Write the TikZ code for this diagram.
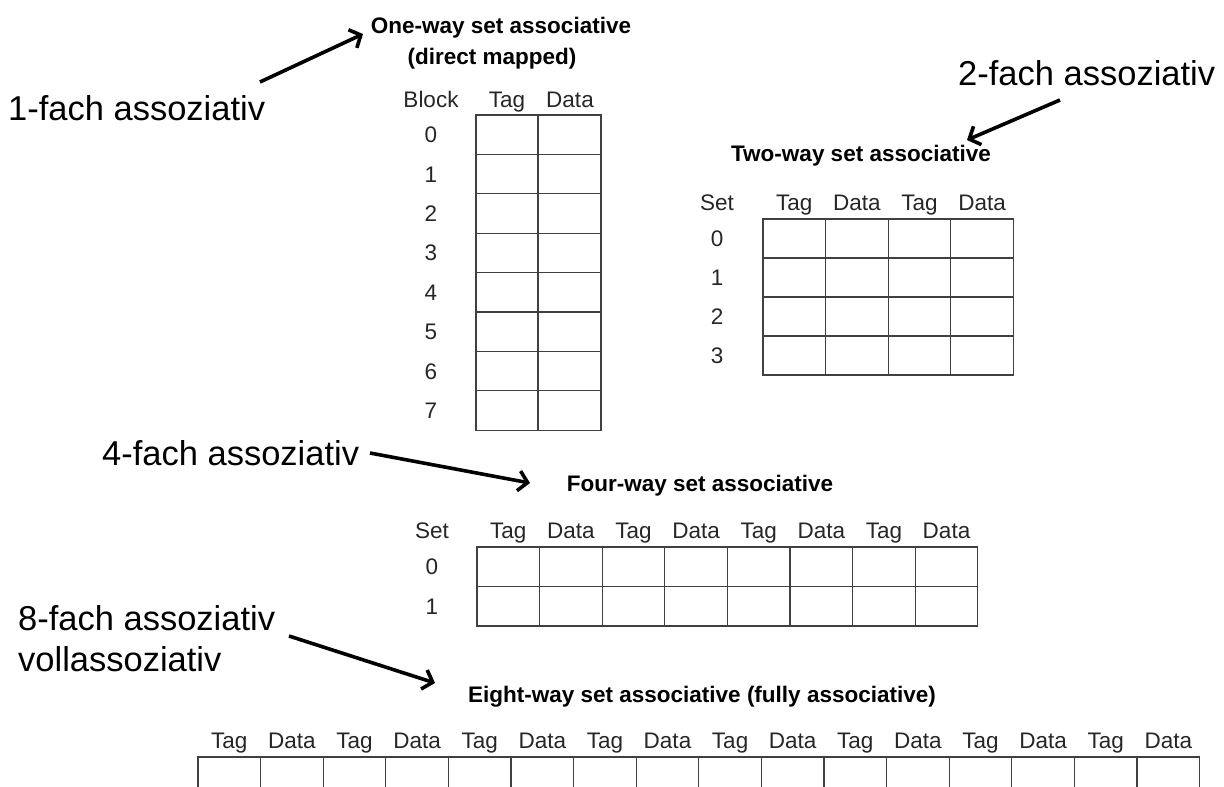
\documentclass[tikz,border=0pt]{standalone}
\usepackage{fontspec}
\setmainfont{Liberation Sans}
\usetikzlibrary{arrows.meta}
\begin{document}
\begin{tikzpicture}[x=1pt,y=-1pt,
  biglabel/.style={font=\fontsize{34.5}{40}\selectfont, inner sep=0, anchor=base west},
  ttl/.style={font=\fontsize{22.5}{26}\selectfont\bfseries, inner sep=0, anchor=base},
  lbl/.style={font=\fontsize{22.5}{26}\selectfont, inner sep=0, anchor=base, text=black!85},
  cellbox/.style={draw=black!75, line width=1.3pt},
  arr/.style={line width=3.6pt, -{Straight Barb[length=9pt,width=20pt,line width=3.6pt]}}
]
\useasboundingbox (0,0) rectangle (1224,787);
\def\cw{62.6}
% ---------- One-way ----------
\node[ttl] (t1a) at (501,33) {One-way set associative};
\node[ttl] (t1b) at (492,64) {(direct mapped)};
\node[lbl] (h1b) at (431,107) {Block};
\node[lbl] (h1t) at (507,107) {Tag};
\node[lbl] (h1d) at (570,107) {Data};
\foreach \i in {0,...,7}{
  \node[lbl] (r1\i) at (431,{115+39.4*(\i+0.5)+8}) {\i};
  \draw[cellbox] (476,{115+39.4*\i}) rectangle (538,{115+39.4*(\i+1)});
  \draw[cellbox] (538,{115+39.4*\i}) rectangle (601,{115+39.4*(\i+1)});
}
% ---------- Two-way ----------
\node[ttl] (t2) at (861,161) {Two-way set associative};
\node[lbl] (h2s) at (717,210) {Set};
\foreach \j/\t in {0/Tag,1/Data,2/Tag,3/Data}{
  \node[lbl] (h2\j) at ({763+\cw*(\j+0.5)},210) {\t};
}
\foreach \i in {0,...,3}{
  \node[lbl] (r2\i) at (717,{219+39*(\i+0.5)+8}) {\i};
  \foreach \j in {0,...,3}{
    \draw[cellbox] ({763+\cw*\j},{219+39*\i}) rectangle ({763+\cw*(\j+1)},{219+39*(\i+1)});
  }
}
% ---------- Four-way ----------
\node[ttl] (t4) at (700,491) {Four-way set associative};
\node[lbl] (h4s) at (432,538) {Set};
\foreach \j/\t in {0/Tag,1/Data,2/Tag,3/Data,4/Tag,5/Data,6/Tag,7/Data}{
  \node[lbl] (h4\j) at ({477+\cw*(\j+0.5)},538) {\t};
}
\foreach \i in {0,1}{
  \node[lbl] (r4\i) at (432,{547+39.5*(\i+0.5)+8}) {\i};
  \foreach \j in {0,...,7}{
    \draw[cellbox] ({477+\cw*\j},{547+39.5*\i}) rectangle ({477+\cw*(\j+1)},{547+39.5*(\i+1)});
  }
}
% ---------- Eight-way ----------
\node[ttl] (t8) at (702,702) {Eight-way set associative (fully associative)};
\foreach \j in {0,...,7}{
  \node[lbl] (h8t\j) at ({198+\cw*(2*\j+0.5)},748) {Tag};
  \node[lbl] (h8d\j) at ({198+\cw*(2*\j+1.5)},748) {Data};
}
\begin{scope}
\clip (0,0) rectangle (1224,787);
\foreach \j in {0,...,15}{
  \draw[cellbox] ({198+\cw*\j},757) rectangle ({198+\cw*(\j+1)},800);
}
\end{scope}
% ---------- German labels and arrows ----------
\node[biglabel] (l1) at (8,120) {1-fach assoziativ};
\node[biglabel] (l2) at (958,85) {2-fach assoziativ};
\node[biglabel] (l4) at (102,465) {4-fach assoziativ};
\node[biglabel] (l8) at (18,630) {8-fach assoziativ};
\node[biglabel] (l8b) at (18,671) {vollassoziativ};
\coordinate (a1s) at (260,82);  \coordinate (a1e) at (363,34);
\coordinate (a2s) at (1060,100); \coordinate (a2e) at (967,140);
\coordinate (a4s) at (370,453); \coordinate (a4e) at (530,483);
\coordinate (a8s) at (289,636); \coordinate (a8e) at (435,683);
\draw[arr] (a1s) -- (a1e);
\draw[arr] (a2s) -- (a2e);
\draw[arr] (a4s) -- (a4e);
\draw[arr] (a8s) -- (a8e);
\end{tikzpicture}
\end{document}
